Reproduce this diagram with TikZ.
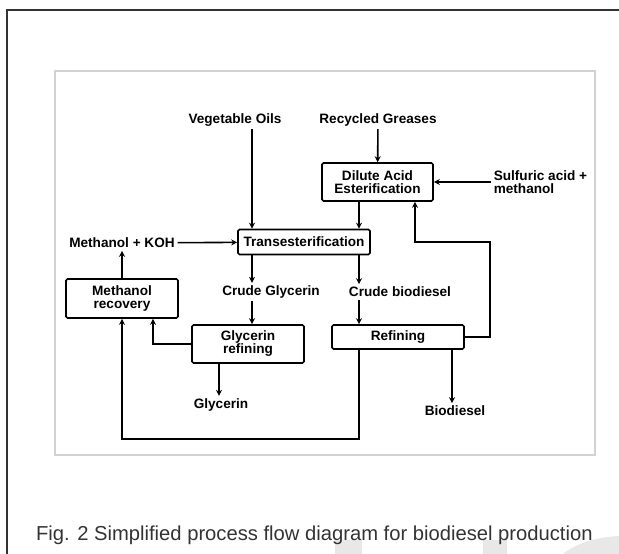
\documentclass[tikz,border=0pt]{standalone}
\usepackage{fontspec}
\setmainfont{Liberation Sans}
\usetikzlibrary{arrows.meta}

\begin{document}
\begin{tikzpicture}[x = 1pt, y = -1pt, line width = 1.6pt,
                    unit/.style = {draw, rounded corners = 1.5pt, align = center,
                                   inner sep = 2pt, font = \fontsize{13.6}{13}\selectfont\bfseries},
                    stream/.style = {align = left, inner sep = 2pt,
                                     font = \fontsize{13.6}{13}\selectfont\bfseries},
                    flow/.style = {-{Stealth[length = 6pt, width = 6pt]}}]
      \useasboundingbox (0, 0) rectangle (619, 554);
      % frames and watermark
      \fill[gray!18] (335, 540) rectangle (362, 554);
      \fill[gray!18] (483, 540) rectangle (507, 554);
      \fill[gray!18] (563, 554) .. controls (575, 544) and (595, 537) .. (619, 536) -- (619, 554) -- cycle;
      \draw[black!80, line width = 1.6pt] (619, 10) -- (7, 10) -- (7, 554);
      \draw[gray!35, line width = 2pt] (55, 71) rectangle (595, 455);
      % process units
      \node [unit, minimum width = 111pt, minimum height = 38pt] (DAE) at (377.5, 182) {Dilute Acid\\Esterification};
      \node [unit, minimum width = 132pt, minimum height = 25pt] (TE) at (304, 242) {Transesterification};
      \node [unit, minimum width = 112pt, minimum height = 39pt] (MR) at (122, 298.5) {Methanol\\recovery};
      \node [unit, minimum width = 112pt, minimum height = 38pt] (GR) at (248, 344) {Glycerin\\refining};
      \node [unit, minimum width = 132pt, minimum height = 24pt] (RF) at (398, 337) {Refining};
      % streams
      \node [stream] (VO) at (235, 120) {Vegetable Oils};
      \node [stream] (RG) at (378, 120) {Recycled Greases};
      \node [stream, anchor = west] (SA) at (491, 182) {Sulfuric acid +\\methanol};
      \node [stream] (MK) at (122, 243) {Methanol + KOH};
      \node [stream] (CG) at (271, 292) {Crude Glycerin};
      \node [stream] (CB) at (400, 292) {Crude biodiesel};
      \node [stream] (GL) at (221, 405) {Glycerin};
      \node [stream] (BD) at (455, 411) {Biodiesel};
      % helper columns
      \coordinate (c1) at (252, 0);
      \coordinate (c2) at (359, 0);
      \coordinate (c3) at (153, 0);
      \coordinate (c4) at (219, 0);
      \coordinate (c5) at (452, 0);
      \coordinate (c6) at (415, 0);
      \coordinate (up) at (490, 242);
      \coordinate (lo) at (122, 439);
      % connectors
      \draw [flow] (VO.south -| c1) -- (TE.north -| c1);
      \draw [flow] (RG) -- (DAE);
      \draw [flow] (SA.west) -- (DAE.east);
      \draw [flow] (DAE.south -| c2) -- (TE.north -| c2);
      \draw [flow] (MK) -- (TE);
      \draw [flow] (TE.south -| c1) -- (CG.north -| c1);
      \draw [flow] (CG.south -| c1) -- (GR.north -| c1);
      \draw [flow] (TE.south -| c2) -- (CB.north -| c2);
      \draw [flow] (CB.south -| c2) -- (RF.north -| c2);
      \draw [flow] (GR.west) -| (MR.south -| c3);
      \draw [flow] (MR) -- (MK);
      \draw [flow] (GR.south -| c4) -- (GL.north -| c4);
      \draw [flow] (RF.south -| c5) -- (BD.north -| c5);
      \draw [flow] (RF.east) -| (up) -| (DAE.south -| c6);
      \draw [flow] (RF.south -| c2) |- (lo) -- (MR.south);
      % caption
      \node [text = black!80, font = \fontsize{20.2}{21}\selectfont, anchor = base west] (cap) at (32, 540)
            {Fig. 2 Simplified process flow diagram for biodiesel production};
    \end{tikzpicture}
\end{document}
